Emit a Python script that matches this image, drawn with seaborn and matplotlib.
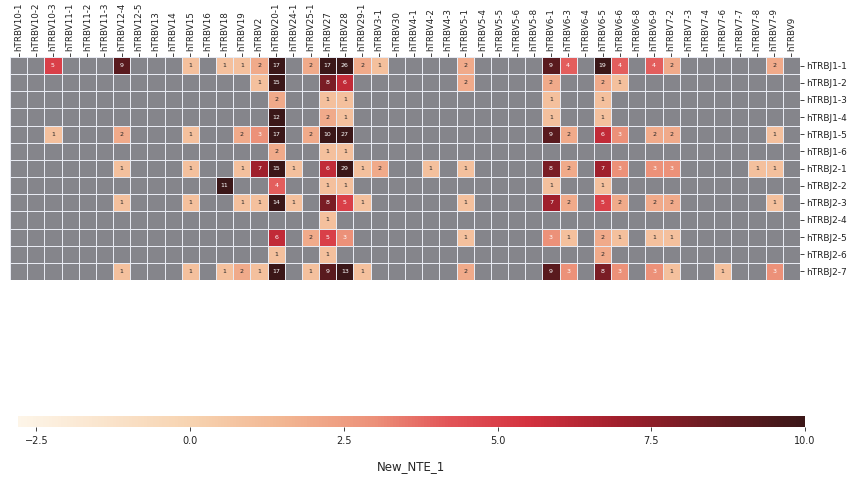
import numpy as np
import pandas as pd
import matplotlib
matplotlib.use("Agg")
import matplotlib.pyplot as plt
import seaborn as sns
from matplotlib.colors import ListedColormap, LinearSegmentedColormap

v_genes = ["hTRBV10-1", "hTRBV10-2", "hTRBV10-3", "hTRBV11-1", "hTRBV11-2", "hTRBV11-3",
           "hTRBV12-4", "hTRBV12-5", "hTRBV13", "hTRBV14", "hTRBV15", "hTRBV16", "hTRBV18",
           "hTRBV19", "hTRBV2", "hTRBV20-1", "hTRBV24-1", "hTRBV25-1", "hTRBV27", "hTRBV28",
           "hTRBV29-1", "hTRBV3-1", "hTRBV30", "hTRBV4-1", "hTRBV4-2", "hTRBV4-3", "hTRBV5-1",
           "hTRBV5-4", "hTRBV5-5", "hTRBV5-6", "hTRBV5-8", "hTRBV6-1", "hTRBV6-3", "hTRBV6-4",
           "hTRBV6-5", "hTRBV6-6", "hTRBV6-8", "hTRBV6-9", "hTRBV7-2", "hTRBV7-3", "hTRBV7-4",
           "hTRBV7-6", "hTRBV7-7", "hTRBV7-8", "hTRBV7-9", "hTRBV9"]

j_genes = ["hTRBJ1-1", "hTRBJ1-2", "hTRBJ1-3", "hTRBJ1-4", "hTRBJ1-5", "hTRBJ1-6",
           "hTRBJ2-1", "hTRBJ2-2", "hTRBJ2-3", "hTRBJ2-4", "hTRBJ2-5", "hTRBJ2-6", "hTRBJ2-7"]

# (J gene, V gene, count) for the non-empty cells
counts = [
    ("hTRBJ1-1", "hTRBV10-3", 5), ("hTRBJ1-1", "hTRBV12-4", 9), ("hTRBJ1-1", "hTRBV15", 1),
    ("hTRBJ1-1", "hTRBV18", 1), ("hTRBJ1-1", "hTRBV19", 1), ("hTRBJ1-1", "hTRBV2", 2),
    ("hTRBJ1-1", "hTRBV20-1", 17), ("hTRBJ1-1", "hTRBV25-1", 2), ("hTRBJ1-1", "hTRBV27", 17),
    ("hTRBJ1-1", "hTRBV28", 26), ("hTRBJ1-1", "hTRBV29-1", 2), ("hTRBJ1-1", "hTRBV3-1", 1),
    ("hTRBJ1-1", "hTRBV5-1", 2), ("hTRBJ1-1", "hTRBV6-1", 9), ("hTRBJ1-1", "hTRBV6-3", 4),
    ("hTRBJ1-1", "hTRBV6-5", 19), ("hTRBJ1-1", "hTRBV6-6", 4), ("hTRBJ1-1", "hTRBV6-9", 4),
    ("hTRBJ1-1", "hTRBV7-2", 2), ("hTRBJ1-1", "hTRBV7-9", 2),

    ("hTRBJ1-2", "hTRBV2", 1), ("hTRBJ1-2", "hTRBV20-1", 15), ("hTRBJ1-2", "hTRBV27", 8),
    ("hTRBJ1-2", "hTRBV28", 6), ("hTRBJ1-2", "hTRBV5-1", 2), ("hTRBJ1-2", "hTRBV6-1", 2),
    ("hTRBJ1-2", "hTRBV6-5", 2), ("hTRBJ1-2", "hTRBV6-6", 1),

    ("hTRBJ1-3", "hTRBV20-1", 2), ("hTRBJ1-3", "hTRBV27", 1), ("hTRBJ1-3", "hTRBV28", 1),
    ("hTRBJ1-3", "hTRBV6-1", 1), ("hTRBJ1-3", "hTRBV6-5", 1),

    ("hTRBJ1-4", "hTRBV20-1", 12), ("hTRBJ1-4", "hTRBV27", 2), ("hTRBJ1-4", "hTRBV28", 1),
    ("hTRBJ1-4", "hTRBV6-1", 1), ("hTRBJ1-4", "hTRBV6-5", 1),

    ("hTRBJ1-5", "hTRBV10-3", 1), ("hTRBJ1-5", "hTRBV12-4", 2), ("hTRBJ1-5", "hTRBV15", 1),
    ("hTRBJ1-5", "hTRBV19", 2), ("hTRBJ1-5", "hTRBV2", 3), ("hTRBJ1-5", "hTRBV20-1", 17),
    ("hTRBJ1-5", "hTRBV25-1", 2), ("hTRBJ1-5", "hTRBV27", 10), ("hTRBJ1-5", "hTRBV28", 27),
    ("hTRBJ1-5", "hTRBV6-1", 9), ("hTRBJ1-5", "hTRBV6-3", 2), ("hTRBJ1-5", "hTRBV6-5", 6),
    ("hTRBJ1-5", "hTRBV6-6", 3), ("hTRBJ1-5", "hTRBV6-9", 2), ("hTRBJ1-5", "hTRBV7-2", 2),
    ("hTRBJ1-5", "hTRBV7-9", 1),

    ("hTRBJ1-6", "hTRBV20-1", 2), ("hTRBJ1-6", "hTRBV27", 1), ("hTRBJ1-6", "hTRBV28", 1),

    ("hTRBJ2-1", "hTRBV12-4", 1), ("hTRBJ2-1", "hTRBV15", 1), ("hTRBJ2-1", "hTRBV19", 1),
    ("hTRBJ2-1", "hTRBV2", 7), ("hTRBJ2-1", "hTRBV20-1", 15), ("hTRBJ2-1", "hTRBV24-1", 1),
    ("hTRBJ2-1", "hTRBV27", 6), ("hTRBJ2-1", "hTRBV28", 29), ("hTRBJ2-1", "hTRBV29-1", 1),
    ("hTRBJ2-1", "hTRBV3-1", 2), ("hTRBJ2-1", "hTRBV4-2", 1), ("hTRBJ2-1", "hTRBV5-1", 1),
    ("hTRBJ2-1", "hTRBV6-1", 8), ("hTRBJ2-1", "hTRBV6-3", 2), ("hTRBJ2-1", "hTRBV6-5", 7),
    ("hTRBJ2-1", "hTRBV6-6", 3), ("hTRBJ2-1", "hTRBV6-9", 3), ("hTRBJ2-1", "hTRBV7-2", 3),
    ("hTRBJ2-1", "hTRBV7-8", 1), ("hTRBJ2-1", "hTRBV7-9", 1),

    ("hTRBJ2-2", "hTRBV18", 11), ("hTRBJ2-2", "hTRBV20-1", 4), ("hTRBJ2-2", "hTRBV27", 1),
    ("hTRBJ2-2", "hTRBV28", 1), ("hTRBJ2-2", "hTRBV6-1", 1), ("hTRBJ2-2", "hTRBV6-5", 1),

    ("hTRBJ2-3", "hTRBV12-4", 1), ("hTRBJ2-3", "hTRBV15", 1), ("hTRBJ2-3", "hTRBV19", 1),
    ("hTRBJ2-3", "hTRBV2", 1), ("hTRBJ2-3", "hTRBV20-1", 14), ("hTRBJ2-3", "hTRBV24-1", 1),
    ("hTRBJ2-3", "hTRBV27", 8), ("hTRBJ2-3", "hTRBV28", 5), ("hTRBJ2-3", "hTRBV29-1", 1),
    ("hTRBJ2-3", "hTRBV5-1", 1), ("hTRBJ2-3", "hTRBV6-1", 7), ("hTRBJ2-3", "hTRBV6-3", 2),
    ("hTRBJ2-3", "hTRBV6-5", 5), ("hTRBJ2-3", "hTRBV6-6", 2), ("hTRBJ2-3", "hTRBV6-9", 2),
    ("hTRBJ2-3", "hTRBV7-2", 2), ("hTRBJ2-3", "hTRBV7-9", 1),

    ("hTRBJ2-4", "hTRBV27", 1),

    ("hTRBJ2-5", "hTRBV20-1", 6), ("hTRBJ2-5", "hTRBV25-1", 2), ("hTRBJ2-5", "hTRBV27", 5),
    ("hTRBJ2-5", "hTRBV28", 3), ("hTRBJ2-5", "hTRBV5-1", 1), ("hTRBJ2-5", "hTRBV6-1", 3),
    ("hTRBJ2-5", "hTRBV6-3", 1), ("hTRBJ2-5", "hTRBV6-5", 2), ("hTRBJ2-5", "hTRBV6-6", 1),
    ("hTRBJ2-5", "hTRBV6-9", 1), ("hTRBJ2-5", "hTRBV7-2", 1),

    ("hTRBJ2-6", "hTRBV20-1", 1), ("hTRBJ2-6", "hTRBV27", 1), ("hTRBJ2-6", "hTRBV6-5", 2),

    ("hTRBJ2-7", "hTRBV12-4", 1), ("hTRBJ2-7", "hTRBV15", 1), ("hTRBJ2-7", "hTRBV18", 1),
    ("hTRBJ2-7", "hTRBV19", 2), ("hTRBJ2-7", "hTRBV2", 1), ("hTRBJ2-7", "hTRBV20-1", 17),
    ("hTRBJ2-7", "hTRBV25-1", 1), ("hTRBJ2-7", "hTRBV27", 9), ("hTRBJ2-7", "hTRBV28", 13),
    ("hTRBJ2-7", "hTRBV29-1", 1), ("hTRBJ2-7", "hTRBV5-1", 2), ("hTRBJ2-7", "hTRBV6-1", 9),
    ("hTRBJ2-7", "hTRBV6-3", 3), ("hTRBJ2-7", "hTRBV6-5", 8), ("hTRBJ2-7", "hTRBV6-6", 3),
    ("hTRBJ2-7", "hTRBV6-9", 3), ("hTRBJ2-7", "hTRBV7-2", 1), ("hTRBJ2-7", "hTRBV7-6", 1),
    ("hTRBJ2-7", "hTRBV7-9", 3),
]

cbar_ticks = [-2.5, 0.0, 2.5, 5.0, 7.5, 10.0]
vmin, vmax = -2.8, 10

# cream -> peach -> salmon -> red -> dark brown, picked off the reference colour bar
cmap_stops = [(-2.8, "#fdf5e8"), (0.0, "#f7d3b0"), (1.5, "#f2b692"), (3.0, "#ec9079"),
              (4.2, "#e25558"), (5.5, "#d4323f"), (7.0, "#a01f2c"), (8.5, "#6a1c22"),
              (10.0, "#3b1718")]
cmap = LinearSegmentedColormap.from_list(
    "nte", [((v - vmin) / (vmax - vmin), c) for v, c in cmap_stops])

df = pd.DataFrame(counts, columns=["J", "V", "n"])
mat = df.pivot(index="J", columns="V", values="n").reindex(index=j_genes, columns=v_genes)

sns.set_style("white")
fig = plt.figure(figsize=(8.5, 4.8), dpi=100)
ax = fig.add_axes([10 / 850, 1 - 280 / 480, 790 / 850, 223 / 480])
cax = fig.add_axes([18 / 850, 1 - 427 / 480, 787 / 850, 11 / 480])

# grey background cells for missing combos
sns.heatmap(mat.isna().astype(float) * 0, cmap=ListedColormap(["#85858b"]), cbar=False,
            linewidths=0.6, linecolor="#e8eaf2", ax=ax)
sns.heatmap(mat, cmap=cmap, vmin=vmin, vmax=vmax, annot=True, fmt=".0f",
            annot_kws={"fontsize": 4.5}, linewidths=0.6, linecolor="#e8eaf2",
            ax=ax, cbar_ax=cax, cbar_kws={"orientation": "horizontal", "ticks": cbar_ticks})

ax.set_xlabel("")
ax.set_ylabel("")
ax.xaxis.tick_top()
ax.set_xticks(np.arange(len(v_genes)) + 0.5)
ax.set_xticklabels(v_genes, rotation=90, fontsize=6.3)
ax.yaxis.tick_right()
ax.set_yticks(np.arange(len(j_genes)) + 0.5)
ax.set_yticklabels(j_genes, rotation=0, fontsize=6.5)
ax.tick_params(axis="both", length=3, width=0.6, pad=1.5, colors="#222222")

cax.tick_params(labelsize=7, length=3, width=0.6, colors="#222222")
cax.set_xticklabels(["\u22122.5", "0.0", "2.5", "5.0", "7.5", "10.0"])
cax.set_xlabel("New_NTE_1", fontsize=8.5, labelpad=10)
for s in cax.spines.values():
    s.set_visible(False)

fig.savefig("out.png", dpi=100)
